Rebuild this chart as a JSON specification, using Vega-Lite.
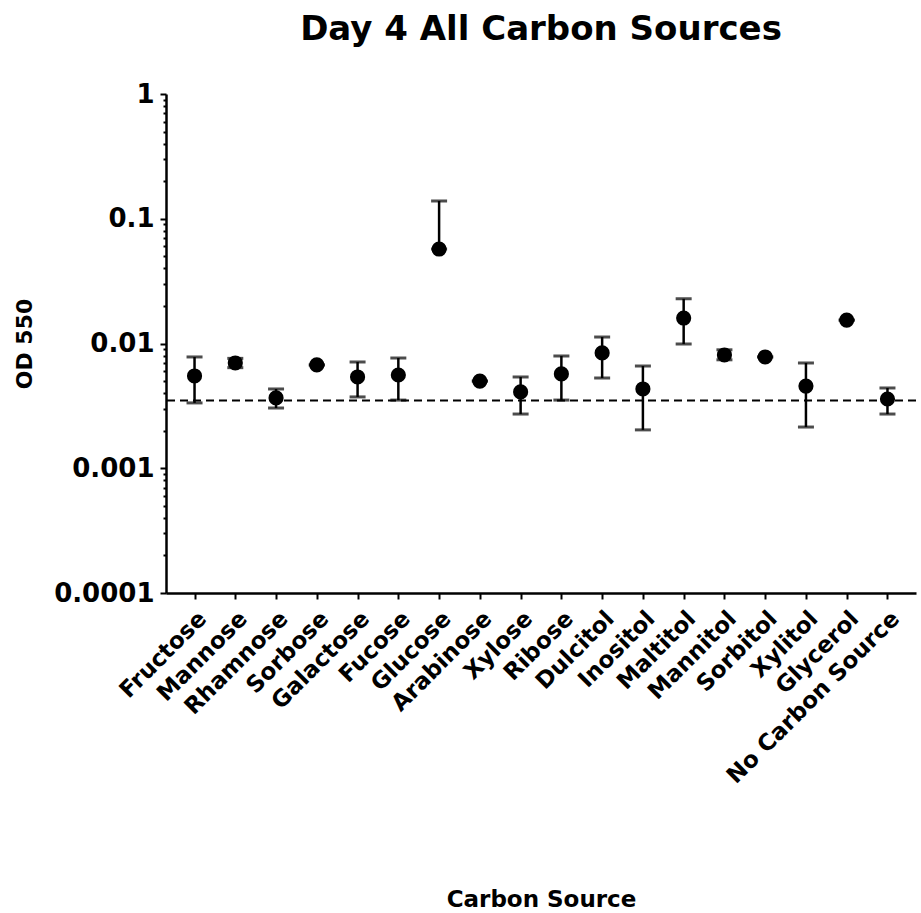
{
  "$schema": "https://vega.github.io/schema/vega-lite/v6.json",
  "autosize": {"type": "none"},
  "padding": {"left": 166, "top": 94, "right": 5, "bottom": 320},
  "width": 750,
  "height": 499,
  "background": "white",
  "title": {
    "text": "Day 4 All Carbon Sources",
    "font": "DejaVu Sans",
    "fontSize": 34,
    "fontWeight": "bold",
    "color": "black",
    "anchor": "middle",
    "offset": 34
  },
  "config": {
    "view": {"stroke": null},
    "axis": {
      "domainColor": "black",
      "domainWidth": 2.5,
      "tickColor": "black",
      "tickWidth": 2,
      "labelColor": "black",
      "titleColor": "black",
      "labelFont": "DejaVu Sans",
      "titleFont": "DejaVu Sans",
      "labelFontWeight": "bold",
      "titleFontWeight": "bold",
      "grid": false
    }
  },
  "datasets": {
    "od": [
      {"source": "Fructose", "od": 0.00549, "lo": 0.00334, "hi": 0.0078},
      {"source": "Mannose", "od": 0.00698, "lo": 0.0064, "hi": 0.0076},
      {"source": "Rhamnose", "od": 0.00366, "lo": 0.00304, "hi": 0.00432},
      {"source": "Sorbose", "od": 0.00673, "lo": 0.00673, "hi": 0.00673},
      {"source": "Galactose", "od": 0.00539, "lo": 0.00373, "hi": 0.00711},
      {"source": "Fucose", "od": 0.00559, "lo": 0.00352, "hi": 0.00765},
      {"source": "Glucose", "od": 0.0572, "lo": 0.0572, "hi": 0.1388},
      {"source": "Arabinose", "od": 0.0050, "lo": 0.0050, "hi": 0.0050},
      {"source": "Xylose", "od": 0.00409, "lo": 0.00272, "hi": 0.00539},
      {"source": "Ribose", "od": 0.0057, "lo": 0.00352, "hi": 0.00794},
      {"source": "Dulcitol", "od": 0.0084, "lo": 0.00529, "hi": 0.01127},
      {"source": "Inositol", "od": 0.00432, "lo": 0.00203, "hi": 0.0066},
      {"source": "Maltitol", "od": 0.0160, "lo": 0.0099, "hi": 0.0228},
      {"source": "Mannitol", "od": 0.00809, "lo": 0.0074, "hi": 0.0089},
      {"source": "Sorbitol", "od": 0.0078, "lo": 0.0078, "hi": 0.0078},
      {"source": "Xylitol", "od": 0.00456, "lo": 0.00214, "hi": 0.00698},
      {"source": "Glycerol", "od": 0.0154, "lo": 0.0154, "hi": 0.0154},
      {"source": "No Carbon Source", "od": 0.00359, "lo": 0.00272, "hi": 0.0044}
    ],
    "baseline": [{"od": 0.0035}]
  },
  "encoding": {
    "x": {
      "field": "source",
      "type": "nominal",
      "sort": null,
      "scale": {"type": "point", "padding": 0.7},
      "axis": {
        "title": "Carbon Source",
        "titleFontSize": 23,
        "titlePadding": 101,
        "labelFontSize": 23,
        "labelAngle": -45,
        "labelAlign": "right",
        "labelBaseline": "top",
        "labelPadding": 8,
        "tickSize": 6,
        "labelLimit": 400
      }
    }
  },
  "layer": [
    {
      "data": {"name": "baseline"},
      "mark": {"type": "rule", "color": "black", "strokeWidth": 2, "strokeDash": [8, 5]},
      "encoding": {
        "x": null,
        "y": {"field": "od", "type": "quantitative"}
      }
    },
    {
      "data": {"name": "od"},
      "mark": {"type": "rule", "color": "black", "strokeWidth": 2.5},
      "encoding": {
        "y": {"field": "lo", "type": "quantitative"},
        "y2": {"field": "hi"}
      }
    },
    {
      "data": {"name": "od"},
      "mark": {"type": "tick", "color": "black", "thickness": 3, "size": 16, "orient": "horizontal"},
      "encoding": {"y": {"field": "hi", "type": "quantitative"}}
    },
    {
      "data": {"name": "od"},
      "mark": {"type": "tick", "color": "black", "thickness": 3, "size": 16, "orient": "horizontal"},
      "encoding": {"y": {"field": "lo", "type": "quantitative"}}
    },
    {
      "data": {"name": "od"},
      "mark": {"type": "point", "filled": true, "color": "black", "opacity": 1, "size": 230},
      "encoding": {
        "y": {
          "field": "od",
          "type": "quantitative",
          "scale": {"type": "log", "domain": [0.0001, 1], "nice": false},
          "axis": {
            "title": "OD 550",
            "titleFontSize": 22,
            "titlePadding": 17,
            "labelFontSize": 26,
            "labelPadding": 6,
            "values": [0.0001, 0.0002, 0.0003, 0.0004, 0.0005, 0.0006, 0.0007, 0.0008, 0.0009, 0.001, 0.002, 0.003, 0.004, 0.005, 0.006, 0.007, 0.008, 0.009, 0.01, 0.02, 0.03, 0.04, 0.05, 0.06, 0.07, 0.08, 0.09, 0.1, 0.2, 0.3, 0.4, 0.5, 0.6, 0.7, 0.8, 0.9, 1],
            "labelExpr": "indexof([1, 0.1, 0.01, 0.001, 0.0001], datum.value) >= 0 ? format(datum.value, '~g') : ''",
            "tickSize": {"condition": {"test": "indexof([1, 0.1, 0.01, 0.001, 0.0001], datum.value) >= 0", "value": 6}, "value": 3}
          }
        }
      }
    }
  ]
}
